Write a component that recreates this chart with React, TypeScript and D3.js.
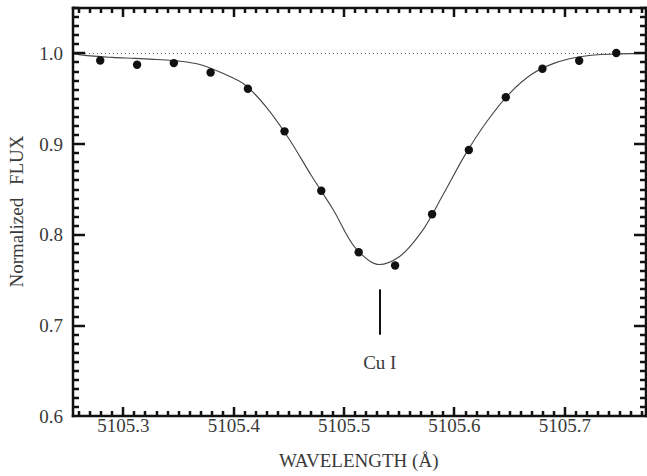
import React from "react";
import * as d3 from "d3";

// Observed data points (wavelength in Å, normalized flux)
const obsWave = [5105.279, 5105.3124, 5105.3457, 5105.379, 5105.4128, 5105.446, 5105.4793, 5105.5132, 5105.5462, 5105.5797, 5105.613, 5105.6465, 5105.6797, 5105.713, 5105.7466];
const obsFlux = [0.9922, 0.9874, 0.9893, 0.9789, 0.9611, 0.9141, 0.8486, 0.7808, 0.7663, 0.8227, 0.8935, 0.9516, 0.983, 0.9919, 1.0004];

// Fitted profile
const fitWave = [5105.255, 5105.27, 5105.29, 5105.31, 5105.33, 5105.35, 5105.37, 5105.39, 5105.41, 5105.43, 5105.45, 5105.47, 5105.49, 5105.51, 5105.53, 5105.55, 5105.57, 5105.59, 5105.61, 5105.63, 5105.65, 5105.67, 5105.69, 5105.71, 5105.73, 5105.75, 5105.775];
const fitFlux = [0.9995, 0.9972, 0.9956, 0.9945, 0.9933, 0.9915, 0.9875, 0.978, 0.9655, 0.940, 0.906, 0.866, 0.828, 0.786, 0.7675, 0.776, 0.803, 0.845, 0.889, 0.926, 0.956, 0.977, 0.989, 0.9955, 0.9985, 0.9995, 1.0];

const xMajor = [5105.3, 5105.4, 5105.5, 5105.6, 5105.7];
const yMajor = [0.6, 0.7, 0.8, 0.9, 1.0];
const lineLabel = "Cu I";
const lineWave = 5105.5323;
const lineFluxTop = 0.740;
const lineFluxBottom = 0.690;

export default function App() {
  const left = 73, right = 646, top = 8, bottom = 416;
  const x = d3.scaleLinear().domain([5105.2546, 5105.7749]).range([73.3, 647.5]);
  const y = d3.scaleLinear().domain([0.6, 1.05]).range([416.4, 8]);
  const rx = (v: number) => Math.round(x(v));
  const ry = (v: number) => Math.round(y(v));

  const xMinor = d3.range(526, 578).map((i) => +(5100 + i / 100).toFixed(2));
  const yMinor = d3.range(61, 106).map((i) => i / 100);

  const line = d3.line<number>()
    .x((_, i) => x(fitWave[i]))
    .y((d) => y(d))
    .curve(d3.curveCatmullRom.alpha(0.5));

  const font = "'Liberation Serif', serif";
  const txt = "#3a3a3a";
  const ink = "#111";
  const t = 2.5;

  const tickRects: { x: number; y: number; w: number; h: number }[] = [];
  xMinor.forEach((v) => {
    const len = xMajor.some((m) => Math.abs(m - v) < 1e-6) ? 9 : 5;
    tickRects.push({ x: rx(v) - t / 2, y: top, w: t, h: len });
    tickRects.push({ x: rx(v) - t / 2, y: bottom - len, w: t, h: len });
  });
  yMinor.forEach((v) => {
    const len = yMajor.some((m) => Math.abs(m - v) < 1e-6) ? 12 : 6;
    tickRects.push({ x: left, y: ry(v) - t / 2, w: len, h: t });
    tickRects.push({ x: right - len, y: ry(v) - t / 2, w: len, h: t });
  });

  return (
    <svg width={647} height={476} style={{ position: "absolute", left: 0, top: 0, background: "#fff" }}>
      <rect x={0} y={0} width={647} height={476} fill="#fff" />
      {/* reference line at 1.0 */}
      <line x1={left} x2={right} y1={ry(1.0) + 0.5} y2={ry(1.0) + 0.5} stroke="#666" strokeWidth={1} strokeDasharray="1,3" />
      {/* fit curve */}
      <path d={line(fitFlux) || ""} fill="none" stroke="#444" strokeWidth={1.1} />
      {/* data points */}
      {obsWave.map((w, i) => (
        <circle key={i} cx={x(w)} cy={y(obsFlux[i])} r={4.2} fill={ink} />
      ))}
      {/* line marker */}
      <rect x={rx(lineWave) - 1} y={y(lineFluxTop)} width={2} height={y(lineFluxBottom) - y(lineFluxTop)} fill={ink} />
      <text x={x(lineWave)} y={369} textAnchor="middle" fontFamily={font} fontSize={19} fill={txt}>{lineLabel}</text>

      {/* frame */}
      <rect x={left - t / 2} y={top - t / 2} width={right - left + t} height={t} fill={ink} />
      <rect x={left - t / 2} y={bottom - t / 2} width={right - left + t} height={t} fill={ink} />
      <rect x={left - t / 2} y={top - t / 2} width={t} height={bottom - top + t} fill={ink} />
      <rect x={right - t / 2} y={top - t / 2} width={t} height={bottom - top + t} fill={ink} />
      {/* ticks */}
      {tickRects.map((r, i) => (
        <rect key={"t" + i} x={r.x} y={r.y} width={r.w} height={r.h} fill={ink} />
      ))}

      {/* tick labels */}
      {xMajor.map((v) => (
        <text key={"xl" + v} x={x(v)} y={432} textAnchor="middle" fontFamily={font} fontSize={19} fill={txt}>
          {d3.format(".1f")(v)}
        </text>
      ))}
      {yMajor.map((v) => (
        <text key={"yl" + v} x={63} y={y(v) + 6.5} textAnchor="end" fontFamily={font} fontSize={19} fill={txt}>
          {d3.format(".1f")(v)}
        </text>
      ))}

      {/* axis titles */}
      <text x={358.7} y={467} textAnchor="middle" fontFamily={font} fontSize={19} fill={txt}>WAVELENGTH (Å)</text>
      <text transform="translate(22.5,211.5) rotate(-90)" textAnchor="middle" fontFamily={font} fontSize={19} fill={txt} style={{ wordSpacing: "8px" }}>
        Normalized FLUX
      </text>
    </svg>
  );
}
